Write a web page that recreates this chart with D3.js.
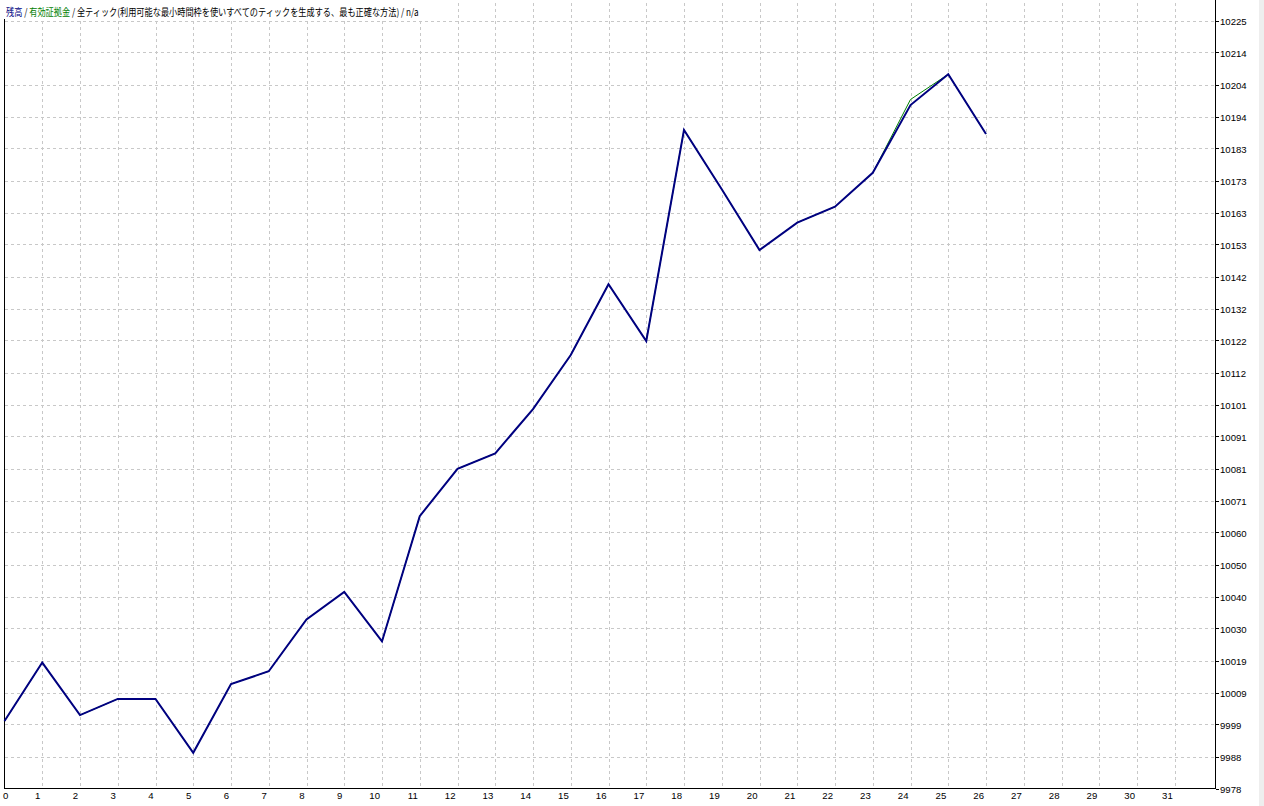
<!DOCTYPE html>
<html>
<head>
<meta charset="utf-8">
<script src="https://cdn.jsdelivr.net/npm/d3@7"></script>
<style>
  html, body { margin: 0; padding: 0; background: #ffffff; }
  svg { display: block; }
</style>
</head>
<body>
<svg id="chart" width="1264" height="806"></svg>
<script>
// ---- data ----
const xTickLabels = ["0","1","2","3","4","5","6","7","8","9","10","11","12","13","14","15","16","17","18","19","20","21","22","23","24","25","26","27","28","29","30","31"];
const yTickLabels = ["9978","9988","9999","10009","10019","10030","10040","10050","10060","10071","10081","10091","10101","10112","10122","10132","10142","10153","10163","10173","10183","10194","10204","10214","10225"];
const balance = [9999.7, 10018.5, 10001.6, 10006.8, 10006.8, 9989.5, 10011.6, 10015.7, 10032.4, 10041.2, 10025.3, 10065.6, 10080.8, 10085.8, 10100.0, 10117.4, 10140.2, 10121.9, 10189.8, 10170.7, 10151.2, 10160.0, 10165.1, 10176.0, 10197.8, 10207.7, 10188.5];
const equity  = [9999.7, 10018.5, 10001.6, 10006.8, 10006.8, 9989.5, 10011.6, 10015.7, 10032.4, 10041.2, 10025.3, 10065.6, 10080.8, 10085.8, 10100.0, 10117.4, 10140.2, 10121.9, 10189.8, 10170.7, 10151.2, 10160.0, 10165.1, 10176.0, 10199.6, 10207.7, 10188.5];
const titleParts = [
  {text: "残高", color: "#000080"},
  {text: " / ", color: "#000000"},
  {text: "有効証拠金", color: "#008000"},
  {text: " / 全ティック(利用可能な最小時間枠を使いすべてのティックを生成する、最も正確な方法) / n/a", color: "#000000"}
];
const yMin = 9978, yMax = 10225;

// ---- layout ----
const plotLeft = 4.5, plotRight = 1215.5, plotTop = 3, plotBottom = 788.5;
const svg = d3.select("#chart");

const x = d3.scaleLinear().domain([0, 32]).range([4.5, 1212.5]);
const y = d3.scaleLinear().domain([yMin, yMax]).range([788.5, 20.5]);
const yTickVals = yTickLabels.map((d, i) => yMin + i * (yMax - yMin) / (yTickLabels.length - 1));

// right window strip
svg.append("rect").attr("x", 1259).attr("y", 0).attr("width", 5).attr("height", 806).attr("fill", "#eeeeee");

// grid
const grid = svg.append("g").attr("shape-rendering", "crispEdges");
grid.selectAll("line.h").data(yTickVals.slice(1)).join("line")
  .attr("x1", plotLeft).attr("x2", plotRight)
  .attr("y1", d => Math.round(y(d)) + 0.5).attr("y2", d => Math.round(y(d)) + 0.5)
  .attr("stroke", "#c8c8c8").attr("stroke-dasharray", "3,3");
grid.selectAll("line.v").data(xTickLabels.slice(1)).join("line")
  .attr("x1", d => Math.round(x(+d)) + 0.5).attr("x2", d => Math.round(x(+d)) + 0.5)
  .attr("y1", plotTop).attr("y2", plotBottom)
  .attr("stroke", "#c8c8c8").attr("stroke-dasharray", "3,3");

// frame
const frame = svg.append("g").attr("shape-rendering", "crispEdges").attr("stroke", "#000");
frame.append("line").attr("x1", plotLeft).attr("x2", plotLeft).attr("y1", plotTop).attr("y2", plotBottom);
frame.append("line").attr("x1", plotRight).attr("x2", plotRight).attr("y1", 0).attr("y2", plotBottom);
frame.append("line").attr("x1", plotLeft).attr("x2", plotRight).attr("y1", plotBottom).attr("y2", plotBottom);
frame.selectAll("line.t").data(yTickVals).join("line")
  .attr("x1", plotRight).attr("x2", plotRight + 3)
  .attr("y1", d => Math.round(y(d)) + 0.5).attr("y2", d => Math.round(y(d)) + 0.5);

// y labels
svg.append("g").selectAll("text").data(yTickLabels).join("text")
  .attr("x", 1220)
  .attr("y", (d, i) => y(yTickVals[i]) + 4.5)
  .attr("font-family", "Liberation Sans, Arial, sans-serif")
  .attr("font-size", "9.6px")
  .attr("fill", "#000")
  .text(d => d);

// x labels
svg.append("g").selectAll("text").data(xTickLabels).join("text")
  .attr("x", (d, i) => i === 0 ? 3 : x(+d) - 2)
  .attr("y", 799)
  .attr("text-anchor", (d, i) => i === 0 ? "start" : "end")
  .attr("font-family", "Liberation Sans, Arial, sans-serif")
  .attr("font-size", "9.6px")
  .attr("fill", "#000")
  .text(d => d);

// lines
const line = d3.line().x((d, i) => x(i)).y(d => y(d));
svg.append("path").datum(equity).attr("d", line)
  .attr("fill", "none").attr("stroke", "#008000").attr("stroke-width", 1);
svg.append("path").datum(balance).attr("d", line)
  .attr("fill", "none").attr("stroke", "#000080").attr("stroke-width", 2).attr("stroke-linejoin", "miter");

// title
const titleBg = svg.append("rect").attr("x", 0).attr("y", 0).attr("height", 19).attr("fill", "#fff");
const title = svg.append("text")
  .attr("x", 0).attr("y", 0)
  .attr("font-family", "Noto Sans CJK JP, sans-serif")
  .attr("font-size", "10px");
title.selectAll("tspan").data(titleParts).join("tspan")
  .attr("fill", d => d.color)
  .attr("xml:space", "preserve")
  .style("white-space", "pre")
  .text(d => d.text);
const w = title.node().getComputedTextLength();
const targetW = 413;
title.attr("transform", `translate(6,16) scale(${targetW / w},1)`);
titleBg.attr("width", targetW + 10);
</script>
</body>
</html>
